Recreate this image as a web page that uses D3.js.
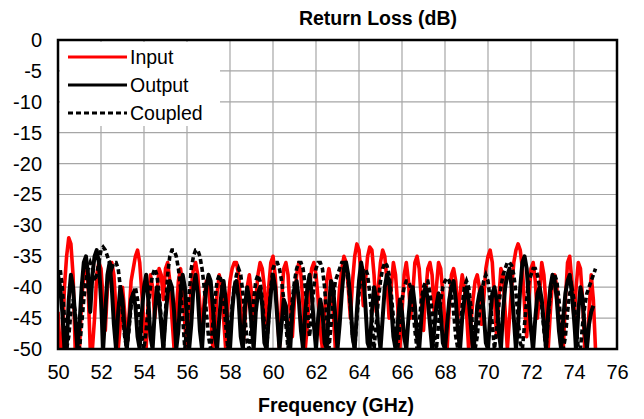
<!DOCTYPE html>
<html>
<head>
<meta charset="utf-8">
<script src="https://cdn.jsdelivr.net/npm/d3@7"></script>
<style>
  body { margin: 0; background: #fff; }
  text { font-family: "Liberation Sans", Arial, sans-serif; }
</style>
</head>
<body>
<div id="chart"></div>
<script>
var svgWidth = 644;
var svgHeight = 419;

var margin = { top: 40, right: 27, bottom: 70, left: 58 };
var width = 617 - margin.left;
var height = 349 - margin.top;

// frequency sampling of the traces (GHz), 0.1 GHz step
var freqs = d3.range(0, 251).map(i => +(50 + i * 0.1).toFixed(1));

var xTicks = [50, 52, 54, 56, 58, 60, 62, 64, 66, 68, 70, 72, 74, 76];
var yTicks = [0, -5, -10, -15, -20, -25, -30, -35, -40, -45, -50];

// return loss (dB)
var inputLoss = [
  -44, -50, -50, -40, -35, -32, -33, -38, -50, -50,
  -50, -42, -38, -36, -40, -50, -50, -45, -38, -36,
  -37, -42, -47, -40, -37, -36, -38, -44, -50, -46,
  -40, -44, -50, -45, -39, -37, -35, -34, -36, -41,
  -46, -50, -42, -38, -40, -45, -41, -37, -38, -42,
  -37, -36, -39, -45, -50, -44, -39, -37, -40, -46,
  -50, -44, -40, -37, -36, -38, -43, -48, -42, -39,
  -40, -44, -50, -47, -41, -38, -40, -45, -50, -43,
  -39, -37, -36, -36, -38, -43, -50, -45, -40, -38,
  -41, -47, -42, -38, -36, -37, -40, -46, -40, -36,
  -35, -38, -44, -50, -42, -37, -36, -38, -44, -48,
  -42, -38, -36, -38, -43, -50, -46, -40, -37, -36,
  -38, -42, -47, -50, -44, -39, -37, -39, -44, -50,
  -45, -40, -37, -35, -36, -40, -45, -39, -35, -33,
  -34, -38, -43, -39, -35, -33.5, -34, -38, -44, -40,
  -36, -34, -35, -39, -45, -40, -36, -38, -43, -50,
  -44, -38, -36, -39, -45, -41, -36, -35, -37, -42,
  -47, -41, -37, -36, -38, -44, -40, -36, -37, -41,
  -46, -50, -43, -38, -37, -39, -45, -41, -38, -40,
  -44, -50, -46, -42, -39, -38, -40, -46, -42, -37,
  -35, -34, -36, -42, -48, -42, -37, -38, -44, -50,
  -45, -40, -36, -34, -33, -34, -37, -43, -48, -42,
  -37, -36, -39, -45, -41, -36, -38, -43, -50, -44,
  -39, -38, -40, -46, -50, -50, -42, -36, -35, -39,
  -45, -40, -36, -37, -42, -50, -50, -44, -38, -42,
  -50
];

var outputLoss = [
  -38, -40, -44, -50, -50, -42, -38, -40, -45, -50,
  -46, -40, -36, -35, -38, -44, -38, -35, -34, -36,
  -42, -50, -44, -38, -36, -40, -46, -50, -44, -40,
  -42, -47, -50, -46, -42, -41, -43, -48, -50, -44,
  -40, -38, -42, -48, -50, -44, -40, -42, -46, -50,
  -45, -41, -39, -40, -44, -50, -47, -41, -38, -40,
  -45, -50, -46, -40, -38, -41, -47, -50, -44, -40,
  -38, -39, -43, -48, -50, -45, -41, -39, -42, -47,
  -50, -44, -40, -39, -42, -48, -50, -43, -40, -42,
  -46, -50, -44, -41, -40, -43, -49, -50, -45, -41,
  -38, -40, -45, -50, -46, -42, -43, -48, -50, -44,
  -40, -39, -42, -47, -50, -44, -40, -38, -41, -46,
  -50, -45, -42, -44, -49, -50, -43, -39, -40, -45,
  -50, -46, -41, -37, -36, -38, -42, -48, -50, -44,
  -39, -36, -38, -43, -49, -50, -44, -40, -42, -47,
  -50, -45, -40, -38, -39, -43, -48, -50, -46, -42,
  -44, -48, -50, -45, -41, -40, -43, -48, -50, -45,
  -41, -40, -42, -46, -50, -47, -43, -41, -44, -49,
  -50, -46, -42, -40, -39, -42, -47, -50, -45, -42,
  -40, -42, -46, -50, -48, -43, -41, -40, -44, -49,
  -50, -45, -41, -40, -42, -47, -50, -44, -40, -38,
  -37, -40, -45, -50, -46, -40, -36, -35, -37, -42,
  -47, -50, -45, -41, -40, -42, -46, -50, -44, -40,
  -38, -39, -42, -47, -50, -45, -41, -39, -38, -41,
  -45, -50, -44, -40, -42, -47, -50, -46, -44, -43
];

var coupledLoss = [
  -38, -37, -40, -45, -50, -48, -44, -42, -44, -48,
  -50, -46, -42, -39, -37, -36, -37, -39, -38, -36,
  -34, -33.5, -34, -35, -36, -37, -36, -36, -37, -40,
  -44, -48, -50, -47, -43, -41, -40, -42, -45, -48,
  -50, -47, -43, -40, -38, -37, -38, -41, -45, -50,
  -44, -38, -35, -34, -34, -35, -37, -40, -45, -50,
  -46, -41, -37, -35, -34, -34, -35, -37, -40, -44,
  -48, -50, -46, -42, -39, -38, -39, -42, -46, -50,
  -47, -43, -40, -38, -37, -38, -41, -45, -49, -50,
  -46, -42, -39, -38, -39, -42, -46, -50, -45, -40,
  -37, -36, -36, -37, -39, -42, -46, -50, -46, -42,
  -39, -37, -36, -36, -37, -40, -44, -48, -44, -40,
  -37, -36, -36, -37, -40, -45, -50, -46, -42, -39,
  -38, -37, -36, -36, -37, -39, -43, -48, -50, -45,
  -41, -38, -37, -37, -38, -41, -45, -50, -46, -42,
  -39, -37, -36, -36.5, -38, -41, -45, -49, -50, -46,
  -42, -40, -39, -39, -40, -43, -47, -50, -46, -42,
  -40, -39, -39, -41, -44, -48, -50, -46, -42, -40,
  -39, -38.5, -39, -41, -44, -48, -50, -47, -43, -40,
  -39, -40, -43, -47, -50, -48, -44, -41, -39, -38,
  -39, -42, -46, -50, -47, -43, -40, -38, -37, -36,
  -36, -36.5, -38, -41, -45, -49, -50, -46, -42, -39,
  -38, -37, -37, -38, -40, -43, -47, -50, -45, -41,
  -39, -38, -39, -42, -46, -50, -48, -44, -41, -40,
  -42, -46, -50, -50, -46, -43, -41, -40, -39, -38,
  -37
];

var seriesNames = ["Input", "Output", "Coupled"];

var svg = d3.select("#chart")
  .append("svg")
  .attr("width", svgWidth)
  .attr("height", svgHeight);

var chartGroup = svg.append("g")
  .attr("transform", `translate(${margin.left}, ${margin.top})`);

var xScale = d3.scaleLinear().domain([50, 76]).range([0, width]);
var yScale = d3.scaleLinear().domain([-50, 0]).range([height, 0]);

// grid
chartGroup.append("g")
  .selectAll("line")
  .data(xTicks.slice(1, -1))
  .enter()
  .append("line")
  .attr("x1", d => xScale(d)).attr("x2", d => xScale(d))
  .attr("y1", 0).attr("y2", height)
  .attr("stroke", "#a6a6a6").attr("stroke-width", 1.2);

chartGroup.append("g")
  .selectAll("line")
  .data(yTicks.slice(1, -1))
  .enter()
  .append("line")
  .attr("x1", 0).attr("x2", width)
  .attr("y1", d => yScale(d)).attr("y2", d => yScale(d))
  .attr("stroke", "#a6a6a6").attr("stroke-width", 1.2);

// axes (labels only, border drawn separately); plain hyphen for minus
var bottomAxis = d3.axisBottom(xScale).tickValues(xTicks).tickSize(0).tickPadding(16)
  .tickFormat(d => String(d));
var leftAxis = d3.axisLeft(yScale).tickValues(yTicks).tickSize(0).tickPadding(16)
  .tickFormat(d => String(d));

var xAxis = chartGroup.append("g")
  .attr("transform", `translate(0, ${height})`)
  .call(bottomAxis);
var yAxis = chartGroup.append("g").call(leftAxis);

[xAxis, yAxis].forEach(function(ax) {
  ax.select(".domain").remove();
  ax.selectAll("text")
    .style("font-family", "'Liberation Sans', Arial, sans-serif")
    .style("font-size", "20px")
    .attr("fill", "#000");
});

// clip traces to the plot
chartGroup.append("clipPath").attr("id", "plotClip")
  .append("rect").attr("width", width).attr("height", height);

var line = d3.line()
  .x((d, i) => xScale(freqs[i]))
  .y(d => yScale(Math.max(-50, d)));

var traces = chartGroup.append("g").attr("clip-path", "url(#plotClip)");

traces.append("path")
  .datum(inputLoss)
  .attr("d", line)
  .attr("fill", "none")
  .attr("stroke", "#ff0000")
  .attr("stroke-width", 3.6)
  .attr("stroke-linejoin", "round");

traces.append("path")
  .datum(coupledLoss)
  .attr("d", line)
  .attr("fill", "none")
  .attr("stroke", "#000")
  .attr("stroke-width", 3.6)
  .attr("stroke-dasharray", "5,3");

traces.append("path")
  .datum(outputLoss)
  .attr("d", line)
  .attr("fill", "none")
  .attr("stroke", "#000")
  .attr("stroke-width", 4)
  .attr("stroke-linejoin", "round");

// plot border
chartGroup.append("rect")
  .attr("width", width).attr("height", height)
  .attr("fill", "none")
  .attr("stroke", "#000")
  .attr("stroke-width", 2.5);

// legend
var legend = chartGroup.append("g");
legend.append("rect")
  .attr("x", 2).attr("y", 2)
  .attr("width", 160).attr("height", 84)
  .attr("fill", "#fff");

var legendStyles = [
  { color: "#ff0000", dash: null, width: 3 },
  { color: "#000", dash: null, width: 3 },
  { color: "#000", dash: "5,3", width: 3 }
];

seriesNames.forEach(function(name, i) {
  var yy = 17 + i * 28;
  legend.append("line")
    .attr("x1", 10).attr("x2", 69)
    .attr("y1", yy).attr("y2", yy)
    .attr("stroke", legendStyles[i].color)
    .attr("stroke-width", legendStyles[i].width)
    .attr("stroke-dasharray", legendStyles[i].dash);
  legend.append("text")
    .attr("x", 72).attr("y", yy + 7)
    .style("font-size", "19.5px")
    .text(name);
});

// titles
svg.append("text")
  .attr("x", 378).attr("y", 25)
  .attr("text-anchor", "middle")
  .style("font-size", "19.5px")
  .style("font-weight", "bold")
  .text("Return Loss (dB)");

svg.append("text")
  .attr("x", 336).attr("y", 412)
  .attr("text-anchor", "middle")
  .style("font-size", "19.5px")
  .style("font-weight", "bold")
  .text("Frequency (GHz)");
</script>
</body>
</html>
